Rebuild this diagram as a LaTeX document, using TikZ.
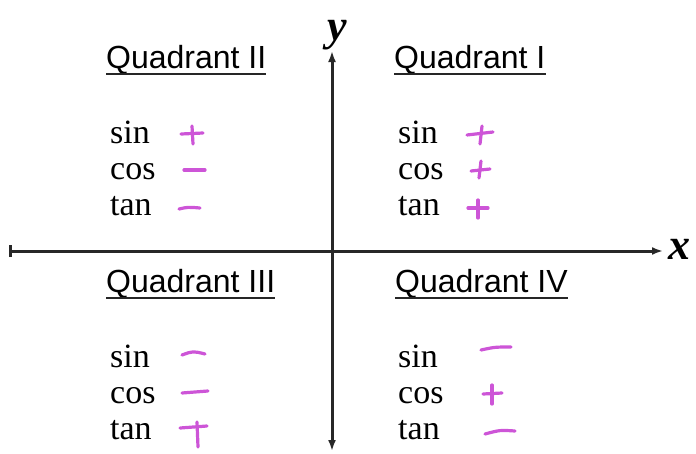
\documentclass[tikz,border=0pt]{standalone}
\usepackage{fontspec}
\setmainfont{Liberation Serif}
\newfontfamily\titlefont{Liberation Sans}
\usetikzlibrary{arrows.meta,calc}
\definecolor{signcol}{RGB}{205,85,215}
\definecolor{axiscol}{RGB}{40,40,40}
\tikzset{
  qtitle/.style={anchor=base west,inner sep=0pt,font=\titlefont\fontsize{32}{38}\selectfont},
  fname/.style={anchor=base west,inner sep=0pt,font=\fontsize{34}{40}\selectfont},
  axlabel/.style={anchor=base,inner sep=0pt,font=\fontsize{44}{50}\selectfont\bfseries\itshape},
  axisline/.style={draw=axiscol,line width=3pt},
  uline/.style={draw=black!85,line width=2.2pt},
  sign/.style={draw=signcol,line width=3.2pt,line cap=round,line join=round}
}
\begin{document}
\begin{tikzpicture}[x=1pt,y=-1pt]
\useasboundingbox (0,0) rectangle (696,453);
% axes
\coordinate (ytop) at (332,51);
\coordinate (ybot) at (332,451);
\coordinate (xleft) at (9,251);
\coordinate (xright) at (663,251);
\draw[axisline,{Latex[length=11pt,width=8pt]}-{Latex[length=11pt,width=8pt]}] (ybot) -- (ytop);
\draw[axisline,{Bar[width=12pt,line width=2.6pt]}-{Latex[length=11pt,width=8pt]}] (xleft) -- (xright);
\node[axlabel] (ylab) at (337,40) {y};
\node[axlabel] (xlab) at (679,259) {x};
% titles
\node[qtitle] (t2) at (106,68) {Quadrant II};
\node[qtitle] (t1) at (394,68) {Quadrant I};
\node[qtitle] (t3) at (106,292) {Quadrant III};
\node[qtitle] (t4) at (395,292) {Quadrant IV};
\foreach \t in {t1,t2,t3,t4}{
  \draw[uline] ($(\t.base west)+(0,6)$) -- ($(\t.base east)+(0,6)$);
}
% function names
\node[fname] (s2) at (110,143) {sin};
\node[fname] (c2) at (110,179) {cos};
\node[fname] (n2) at (110,215) {tan};
\node[fname] (s1) at (398,143) {sin};
\node[fname] (c1) at (398,179) {cos};
\node[fname] (n1) at (398,215) {tan};
\node[fname] (s3) at (110,367) {sin};
\node[fname] (c3) at (110,403) {cos};
\node[fname] (n3) at (110,439) {tan};
\node[fname] (s4) at (398,367) {sin};
\node[fname] (c4) at (398,403) {cos};
\node[fname] (n4) at (398,439) {tan};
% Quadrant II signs
\draw[sign] (181,134) -- (203,133);
\draw[sign] (192,126) -- (193,144);
\draw[sign] (184,170) -- (205,170);
\draw[sign] (179,209) .. controls (188,207) .. (200,208);
% Quadrant I signs
\draw[sign] (467,135) -- (493,132);
\draw[sign] (482,126) -- (480,144);
\draw[sign] (471,171) -- (490,169);
\draw[sign] (481,161) -- (479,178);
\draw[sign] (468,208) -- (488,208);
\draw[sign] (478,200) -- (478,218);
% Quadrant III signs
\draw[sign] (182,355) .. controls (193,351) .. (205,354);
\draw[sign] (182,393) -- (208,391);
\draw[sign] (180,428) -- (207,426);
\draw[sign] (197,422) -- (198,447);
% Quadrant IV signs
\draw[sign] (481,350) .. controls (495,347) .. (511,347);
\draw[sign] (483,394) -- (502,393);
\draw[sign] (492,385) -- (492,404);
\draw[sign] (485,434) .. controls (500,430) .. (515,431);
\end{tikzpicture}
\end{document}
